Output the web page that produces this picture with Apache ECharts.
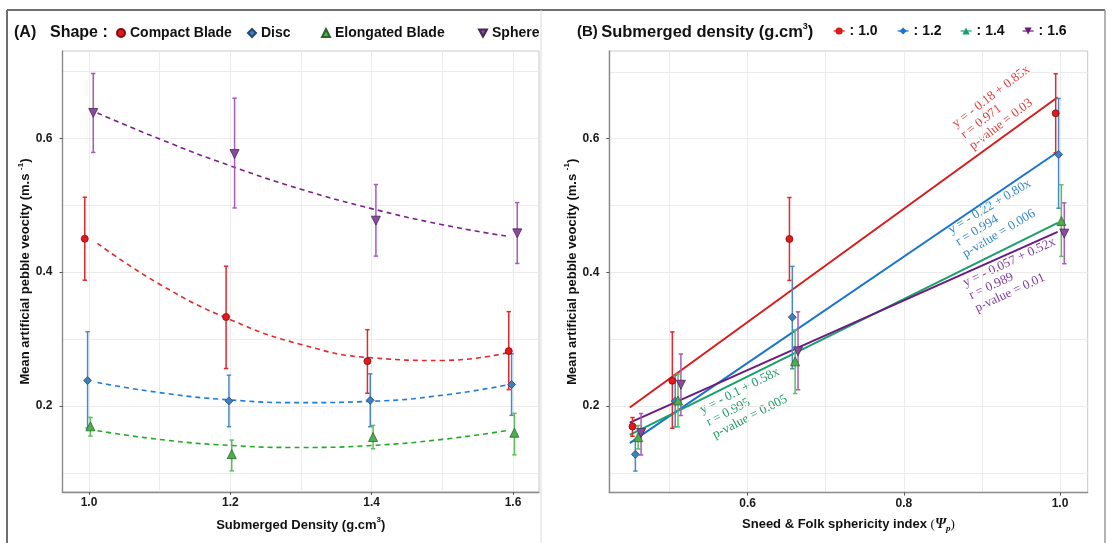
<!DOCTYPE html>
<html>
<head>
<meta charset="UTF-8">
<script src="https://cdn.jsdelivr.net/npm/echarts@6/dist/echarts.min.js"></script>
<style>
html, body { margin: 0; padding: 0; background: #fff; }
#chart { width: 1113px; height: 543px; }
</style>
</head>
<body>
<div id="chart"></div>
<script>
// ---------- data ----------
const densities = [1.0, 1.2, 1.4, 1.6];
const shapes = ['Compact Blade', 'Disc', 'Elongated Blade', 'Sphere'];
const densityNames = [': 1.0', ': 1.2', ': 1.4', ': 1.6'];
const sphericity = [0.659, 0.509, 0.458, 1.0];   // Compact Blade, Disc, Elongated Blade, Sphere

// mean velocity per shape at each density
const compactBlade = [0.450, 0.333, 0.267, 0.282];
const disc = [0.238, 0.2075, 0.2085, 0.232];
const elongatedBlade = [0.1696, 0.128, 0.1536, 0.160];
const sphere = [0.638, 0.5765, 0.477, 0.458];

// error bar ends
const compactLow = [0.388, 0.256, 0.219, 0.2245];
const compactHigh = [0.512, 0.409, 0.314, 0.341];
const discLow = [0.167, 0.169, 0.169, 0.186];
const discHigh = [0.311, 0.246, 0.248, 0.278];
const elongatedLow = [0.155, 0.103, 0.136, 0.127];
const elongatedHigh = [0.183, 0.149, 0.171, 0.189];
const sphereLow = [0.579, 0.496, 0.424, 0.413];
const sphereHigh = [0.697, 0.660, 0.531, 0.504];

// dashed trend curves of panel A
const fitX = [1.012, 1.1, 1.2, 1.3, 1.4, 1.5, 1.59];
const compactFit = [0.443, 0.382, 0.329, 0.292, 0.272, 0.268, 0.279];
const discFit = [0.235, 0.220, 0.209, 0.205, 0.207, 0.216, 0.231];
const elongatedFit = [0.163, 0.150, 0.141, 0.138, 0.141, 0.150, 0.163];
const sphereFit = [0.638, 0.599, 0.559, 0.524, 0.495, 0.471, 0.454];

// regression lines of panel B (ends)
const regX = [0.449, 0.997];
const reg10 = [0.198, 0.662];
const reg12 = [0.1447, 0.580];
const reg14 = [0.157, 0.474];
const reg16 = [0.1755, 0.4605];
const regNotes = [
    ['y = - 0.18 + 0.85x', 'r = 0.971', 'p-value = 0.03'],
    ['y = - 0.22 + 0.80x', 'r = 0.994', 'p-value = 0.006'],
    ['y = - 0.1 + 0.58x', 'r = 0.995', 'p-value = 0.005'],
    ['y = - 0.057 + 0.52x', 'r = 0.989', 'p-value = 0.01']
];

// ticks
const yLabels = [0.2, 0.4, 0.6];
const yLines = [0.1, 0.2, 0.3, 0.4, 0.5, 0.6, 0.7];
const xLabelsA = [1.0, 1.2, 1.4, 1.6];
const xLinesA = [1.0, 1.1, 1.2, 1.3, 1.4, 1.5, 1.6];
const xLabelsB = [0.6, 0.8, 1.0];
const xLinesB = [0.5, 0.6, 0.7, 0.8, 0.9, 1.0];

// ---------- styles ----------
const SANS = '"Liberation Sans", Arial, sans-serif';
const SERIF = '"Liberation Serif", "Times New Roman", serif';

const means = [compactBlade, disc, elongatedBlade, sphere];
const lows = [compactLow, discLow, elongatedLow, sphereLow];
const highs = [compactHigh, discHigh, elongatedHigh, sphereHigh];
const fits = [compactFit, discFit, elongatedFit, sphereFit];
const regs = [reg10, reg12, reg14, reg16];

const SYMBOLS = ['circle', 'diamond', 'triangle', 'path://M0,0L10,0L5,9Z'];
const SYMBOL_SIZE = [7, 8, 9, 9];
const FILL = ['#e3191c', '#3f7fbf', '#4cae4c', '#8a4a9e'];
const EDGE = ['#7a1010', '#1f4a75', '#2a662a', '#4a2358'];
const BAR = ['#e8262b', '#4a8ac4', '#5cbf5c', '#a65cb8'];
const DASH = ['#e6262b', '#1e7ad8', '#22aa22', '#7b2087'];
const REG = ['#d91a1a', '#1a73d0', '#17a06a', '#6b1a80'];
const NOTE = ['#e23c3c', '#2e86cc', '#1f9a64', '#7e3b9a'];
const NOTE_POS = [[957, 129, 37.5], [952, 235, 31], [703, 415, 27], [966, 288, 25]];

const dodgeA = [-0.006, -0.002, 0.002, 0.006];
const dodgeB = [-0.0055, -0.0018, 0.0018, 0.0055];

const RICH = {
    t: { fontFamily: SANS, fontSize: 13, fontWeight: 'bold', color: '#111', lineHeight: 18 },
    s: { fontFamily: SANS, fontSize: 8, fontWeight: 'bold', color: '#111', lineHeight: 12, verticalAlign: 'top' },
    g: { fontFamily: SERIF, fontSize: 14, fontStyle: 'italic', fontWeight: 'bold', color: '#111', lineHeight: 18 },
    p: { fontFamily: SERIF, fontSize: 9, fontStyle: 'italic', fontWeight: 'bold', color: '#111', lineHeight: 12, verticalAlign: 'bottom' },
    m: { fontFamily: SERIF, fontSize: 13, color: '#111', lineHeight: 18 }
};

// ---------- axes ----------
function mainAxis(gridIndex, min, max, labels, lines, name, nameGap, margin) {
    return {
        type: 'value', gridIndex, min, max,
        name, nameLocation: 'middle', nameGap,
        nameTextStyle: { rich: RICH },
        axisLine: { show: true, onZero: false, lineStyle: { color: '#8a8a8a', width: 1.4 } },
        axisTick: { show: false, customValues: lines },
        splitLine: { show: true, lineStyle: { color: '#ebebeb', width: 1 } },
        axisLabel: {
            customValues: labels,
            formatter: v => v.toFixed(1),
            fontFamily: SANS, fontWeight: 'bold', fontSize: 12, color: '#1a1a1a', margin
        }
    };
}

function tickAxis(gridIndex, min, max, labels, position) {
    return {
        type: 'value', gridIndex, min, max, position,
        axisLine: { show: false },
        axisLabel: { show: false },
        splitLine: { show: false },
        axisTick: { show: true, customValues: labels, length: 3, lineStyle: { color: '#555' } }
    };
}

const yName = '{t|Mean artificial pebble veocity (m.s }{s|-1}{t|)}';

const xAxis = [
    mainAxis(0, 0.9625, 1.6368, xLabelsA, xLinesA, '{t|Submerged Density (g.cm}{s|3}{t|)}', 24, 5),
    mainAxis(1, 0.4228, 1.0355, xLabelsB, xLinesB, '{t|Sneed & Folk sphericity index }{m|(}{g|Ψ}{p|p}{m|)}', 23, 5),
    tickAxis(0, 0.9625, 1.6368, xLabelsA, 'bottom'),
    tickAxis(1, 0.4228, 1.0355, xLabelsB, 'bottom')
];
const yAxis = [
    mainAxis(0, 0.0714, 0.7306, yLabels, yLines, yName, 27, 10),
    mainAxis(1, 0.0709, 0.7311, yLabels, yLines, yName, 28, 10),
    tickAxis(0, 0.0714, 0.7306, yLabels, 'left'),
    tickAxis(1, 0.0709, 0.7311, yLabels, 'left')
];

// ---------- series ----------
function errorBarItem(params, api) {
    const x = api.value(0);
    const lo = api.coord([x, api.value(1)]);
    const hi = api.coord([x, api.value(2)]);
    const cap = 2.2;
    const style = { stroke: api.visual('color'), lineWidth: 1.5 };
    return {
        type: 'group',
        children: [
            { type: 'line', shape: { x1: lo[0], y1: lo[1], x2: hi[0], y2: hi[1] }, style },
            { type: 'line', shape: { x1: lo[0] - cap, y1: lo[1], x2: lo[0] + cap, y2: lo[1] }, style },
            { type: 'line', shape: { x1: hi[0] - cap, y1: hi[1], x2: hi[0] + cap, y2: hi[1] }, style }
        ]
    };
}

const series = [];

// panel A
shapes.forEach((shape, i) => {
    series.push({
        type: 'line', xAxisIndex: 0, yAxisIndex: 0, z: 2,
        data: fitX.map((x, k) => [x, fits[i][k]]),
        smooth: true, showSymbol: false, silent: true,
        lineStyle: { color: DASH[i], width: 1.6, type: [5, 4] }
    });
    series.push({
        type: 'custom', xAxisIndex: 0, yAxisIndex: 0, z: 3,
        renderItem: errorBarItem,
        itemStyle: { color: BAR[i] },
        encode: { x: 0, y: [1, 2] },
        data: densities.map((d, j) => [d + dodgeA[i], lows[i][j], highs[i][j]])
    });
    series.push({
        name: shape, type: 'scatter', xAxisIndex: 0, yAxisIndex: 0, z: 4,
        symbol: SYMBOLS[i], symbolSize: SYMBOL_SIZE[i],
        itemStyle: { color: FILL[i], borderColor: EDGE[i], borderWidth: 0.8, opacity: 1 },
        data: densities.map((d, j) => [d + dodgeA[i], means[i][j]])
    });
});

// panel B
densityNames.forEach((dn, j) => {
    series.push({
        name: dn, type: 'line', xAxisIndex: 1, yAxisIndex: 1, z: 2,
        data: regX.map((x, k) => [x, regs[j][k]]),
        showSymbol: false, symbol: SYMBOLS[j], silent: true,
        itemStyle: { color: REG[j] },
        lineStyle: { color: REG[j], width: 2 }
    });
    series.push({
        type: 'custom', xAxisIndex: 1, yAxisIndex: 1, z: 3,
        renderItem: errorBarItem,
        itemStyle: { color: BAR[j] },
        encode: { x: 0, y: [1, 2] },
        data: shapes.map((s, i) => [sphericity[i] + dodgeB[j], lows[i][j], highs[i][j]])
    });
    series.push({
        name: 'pts' + dn, type: 'scatter', xAxisIndex: 1, yAxisIndex: 1, z: 4,
        symbol: SYMBOLS[j], symbolSize: SYMBOL_SIZE[j],
        itemStyle: { color: FILL[j], borderColor: EDGE[j], borderWidth: 0.8, opacity: 1 },
        data: shapes.map((s, i) => [sphericity[i] + dodgeB[j], means[i][j]])
    });
});

// ---------- legends ----------
const legendText = { fontFamily: SANS, fontWeight: 'bold', fontSize: 14, color: '#111' };
const legendLeftA = [116, 247, 321, 478];
const legendLeftB = [833, 897, 960, 1022];
const legend = [];
shapes.forEach((s, i) => legend.push({
    data: [s], left: legendLeftA[i], top: 26, padding: 0, selectedMode: false,
    itemWidth: 8, itemHeight: 8, textStyle: legendText
}));
densityNames.forEach((s, j) => legend.push({
    data: [s], left: legendLeftB[j], top: 24, padding: 0, selectedMode: false,
    itemWidth: 11, itemHeight: 9, lineStyle: { width: 1.2 }, textStyle: legendText
}));

// ---------- frame, headers, fit notes ----------
const frame = { stroke: '#6e6e6e', lineWidth: 2 };
const graphic = [
    { type: 'line', shape: { x1: 7, y1: 10, x2: 1105, y2: 10 }, style: frame },
    { type: 'line', shape: { x1: 7, y1: 10, x2: 7, y2: 543 }, style: frame },
    { type: 'line', shape: { x1: 1105, y1: 10, x2: 1105, y2: 543 }, style: { stroke: '#9a9a9a', lineWidth: 1.5 } },
    { type: 'line', shape: { x1: 541, y1: 10, x2: 541, y2: 543 }, style: { stroke: '#dcdcdc', lineWidth: 1 } },
    {
        type: 'text', x: 14, y: 33,
        style: { text: '(A)', font: 'bold 16px ' + SANS, fill: '#111', verticalAlign: 'middle', textVerticalAlign: 'middle' }
    },
    {
        type: 'text', x: 50, y: 33,
        style: { text: 'Shape :', font: 'bold 16px ' + SANS, fill: '#111', verticalAlign: 'middle', textVerticalAlign: 'middle' }
    },
    {
        type: 'text', x: 577, y: 32,
        style: {
            text: '{b|(B)} {h|Submerged density (g.cm}{u|3}{h|)}',
            rich: {
                b: { font: 'bold 15px ' + SANS, fill: '#111', color: '#111', lineHeight: 20 },
                h: { font: 'bold 16.5px ' + SANS, fill: '#111', color: '#111', lineHeight: 20 },
                u: { font: 'bold 9px ' + SANS, fill: '#111', color: '#111', lineHeight: 12, verticalAlign: 'top' }
            },
            verticalAlign: 'middle', textVerticalAlign: 'middle'
        }
    }
];
regNotes.forEach((lines, j) => {
    const [x, y, ang] = NOTE_POS[j];
    graphic.push({
        type: 'group', x, y, rotation: ang * Math.PI / 180,
        children: [{
            type: 'text', x: 0, y: -12,
            style: {
                text: lines.join('\n'), font: '13px ' + SERIF, fill: NOTE[j], lineHeight: 14,
                align: 'left', verticalAlign: 'top', textAlign: 'left', textVerticalAlign: 'top'
            }
        }]
    });
});

const chart = echarts.init(document.getElementById('chart'), null, { renderer: 'canvas' });
chart.setOption({
    animation: false,
    backgroundColor: '#fff',
    grid: [
        { left: 62.5, top: 51, width: 476.5, height: 441, show: true, borderColor: '#c8c8c8', borderWidth: 1, backgroundColor: '#fff' },
        { left: 609.3, top: 51, width: 478.4, height: 441.5, show: true, borderColor: '#c8c8c8', borderWidth: 1, backgroundColor: '#fff' }
    ],
    legend,
    xAxis,
    yAxis,
    series,
    graphic
});
</script>
</body>
</html>
